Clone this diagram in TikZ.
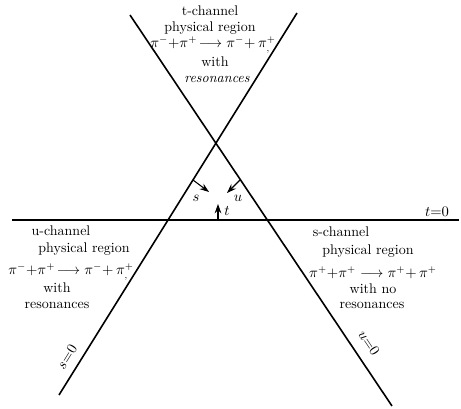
\documentclass[tikz,border=0pt]{standalone}
\usetikzlibrary{arrows.meta}

\tikzset{
  region/.style={inner sep=0pt, font=\fontsize{10.5}{12}\selectfont},
  axisline/.style={very thick, black},
  growarrow/.style={thick, black, -{Stealth[length=7pt,width=5pt]}},
}

\begin{document}
\begin{tikzpicture}[x=0.75pt, y=-0.75pt]
    \useasboundingbox (0,0) rectangle (461,409);

    % Опорные точки прямых
    \coordinate (uTop) at (130,15);
    \coordinate (uBot) at (392,406);
    \coordinate (sTop) at (297,13);
    \coordinate (sBot) at (59,395);
    \coordinate (tLeft) at (12,220);
    \coordinate (tRight) at (459,220);

    % Прямые s=0, u=0, t=0
    \draw[axisline] (uTop) -- (uBot);
    \draw[axisline] (sTop) -- (sBot);
    \draw[axisline] (tLeft) -- (tRight);

    % Подписи прямых
    \node[region, rotate=58] (sZero) at (67,357) {$s{=}0$};
    \node[region, rotate=-56] (uZero) at (369,343) {$u{=}0$};
    \node[region] (tZero) at (437,212) {$t{=}0$};

    % Стрелки роста s, u, t
    \coordinate (sFoot) at (193,180);
    \coordinate (sTip) at (209,192);
    \coordinate (uFoot) at (240,180);
    \coordinate (uTip) at (227,193);
    \coordinate (tFoot) at (218,220);
    \coordinate (tTip) at (218,204);
    \draw[growarrow] (sFoot) -- (sTip);
    \draw[growarrow] (uFoot) -- (uTip);
    \draw[growarrow] (tFoot) -- (tTip);
    \node[region] (sLab) at (196,198) {$s$};
    \node[region] (uLab) at (238,198) {$u$};
    \node[region] (tLab) at (227,211) {$t$};

    % t-канал (сверху)
    \node[region] (tHead) at (210,11) {t-channel};
    \node[region] (tPhys) at (210,28) {physical region};
    \node[region] (tReac) at (213,45) {$\pi^-{+}\pi^+\!\longrightarrow\pi^-{+}\,\pi^+_{,}$};
    \node[region] (tWith) at (215,62) {with};
    \node[region] (tRes) at (217,79) {\itshape resonances};

    % u-канал (слева)
    \node[region] (uHead) at (61,231) {u-channel};
    \node[region] (uPhys) at (84,249) {physical region};
    \node[region] (uReac) at (71,272) {$\pi^-{+}\pi^+\!\longrightarrow\pi^-{+}\,\pi^+_{,}$};
    \node[region] (uWith) at (57,288) {with};
    \node[region] (uRes) at (57,305) {resonances};

    % s-канал (справа)
    \node[region] (sHead) at (341,232) {s-channel};
    \node[region] (sPhys) at (368,251) {physical region};
    \node[region] (sReac) at (373,273) {$\pi^+{+}\pi^+\longrightarrow\pi^+{+}\,\pi^+$};
    \node[region] (sWith) at (373,289) {with no};
    \node[region] (sRes) at (372,305) {resonances};
\end{tikzpicture}
\end{document}
